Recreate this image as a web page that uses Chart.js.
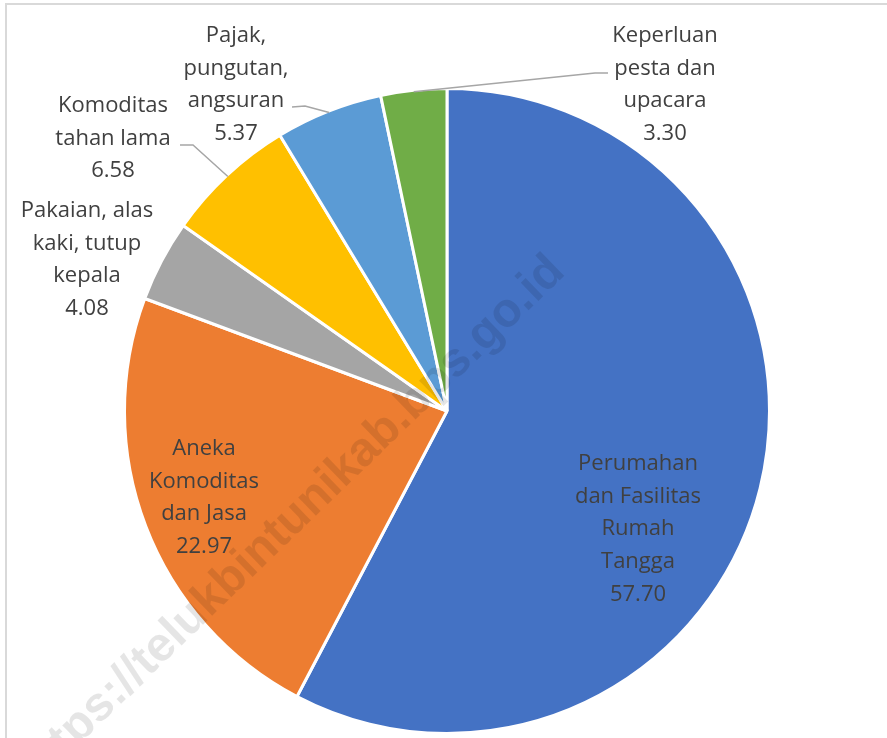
<!DOCTYPE html>
<html>
<head>
<meta charset="utf-8">
<script src="https://cdn.jsdelivr.net/npm/chart.js@4"></script>
<style>
  html, body { margin: 0; padding: 0; background: #ffffff; }
  #wrap { position: relative; width: 887px; height: 738px; overflow: hidden; }
  #frame { position: absolute; left: 5px; top: 3px; width: 900px; height: 760px;
           border-top: 2px solid #d9d9d9; border-left: 2px solid #d9d9d9; pointer-events: none; }
  canvas { position: absolute; left: 0; top: 0; }
</style>
</head>
<body>
<div id="wrap">
  <canvas id="c" width="887" height="738"></canvas>
  <div id="frame"></div>
</div>
<script>
// ---- data ----
const categories = [
  ["Perumahan", "dan Fasilitas", "Rumah", "Tangga"],
  ["Aneka", "Komoditas", "dan Jasa"],
  ["Pakaian, alas", "kaki, tutup", "kepala"],
  ["Komoditas", "tahan lama"],
  ["Pajak,", "pungutan,", "angsuran"],
  ["Keperluan", "pesta dan", "upacara"]
];
const values = [57.70, 22.97, 4.08, 6.58, 5.37, 3.30];
const valueLabels = ["57.70", "22.97", "4.08", "6.58", "5.37", "3.30"];
const colors = ["#4472C4", "#ED7D31", "#A5A5A5", "#FFC000", "#5B9BD5", "#70AD47"];
const watermark = "https://telukbintunikab.bps.go.id";

// ---- label layout (offsets from pie centre, px) ----
const labelLayout = [
  { dx: 191, dy: 59 },
  { dx: -243, dy: 44 },
  { dx: -360, dy: -194 },
  { dx: -334, dy: -299, leader: [[-254, -266], [-267, -266]] },
  { dx: -211, dy: -369, leader: [[-142, -305], [-155, -304]] },
  { dx: 218, dy: -369, leader: [[148, -338], [161, -338]] }
];
const lineGap = 32.7;
const labelFont = '22px "Open Sans"';
const labelColor = '#404040';

const labelPlugin = {
  id: 'pieLabels',
  afterDatasetsDraw(chart) {
    const ctx = chart.ctx;
    const meta = chart.getDatasetMeta(0);
    ctx.save();
    meta.data.forEach((arc, i) => {
      const p = arc.getProps(['x', 'y', 'startAngle', 'endAngle', 'outerRadius'], true);
      const L = labelLayout[i];
      if (L.leader) {
        const mid = (p.startAngle + p.endAngle) / 2;
        const ax = p.x + Math.cos(mid) * (p.outerRadius - 1.5);
        const ay = p.y + Math.sin(mid) * (p.outerRadius - 1.5);
        ctx.beginPath();
        ctx.moveTo(ax, ay);
        L.leader.forEach(pt => ctx.lineTo(p.x + pt[0], p.y + pt[1]));
        ctx.strokeStyle = '#A6A6A6';
        ctx.lineWidth = 1.5;
        ctx.stroke();
      }
      const lines = categories[i].concat([valueLabels[i]]);
      ctx.font = labelFont;
      ctx.fillStyle = labelColor;
      ctx.textAlign = 'center';
      ctx.textBaseline = 'alphabetic';
      lines.forEach((t, k) => {
        ctx.fillText(t, p.x + L.dx, p.y + L.dy + k * lineGap);
      });
    });
    ctx.restore();
  }
};

const watermarkPlugin = {
  id: 'watermark',
  afterDraw(chart) {
    const ctx = chart.ctx;
    ctx.save();
    ctx.translate(300, 531);
    ctx.rotate(-44 * Math.PI / 180);
    ctx.font = 'bold 48px "Liberation Sans"';
    ctx.fillStyle = 'rgba(0,0,0,0.1)';
    ctx.textAlign = 'center';
    ctx.textBaseline = 'alphabetic';
    ctx.fillText(watermark, 0, 0);
    ctx.restore();
  }
};

new Chart(document.getElementById('c'), {
  type: 'pie',
  data: {
    labels: categories.map(c => c.join(' ')),
    datasets: [{
      data: values,
      backgroundColor: colors,
      borderColor: '#ffffff',
      borderWidth: 3
    }]
  },
  options: {
    responsive: false,
    animation: false,
    layout: { padding: { top: 87, bottom: 3, left: 7, right: 0 } },
    plugins: { legend: { display: false }, tooltip: { enabled: false } }
  },
  plugins: [labelPlugin, watermarkPlugin]
});
</script>
</body>
</html>
